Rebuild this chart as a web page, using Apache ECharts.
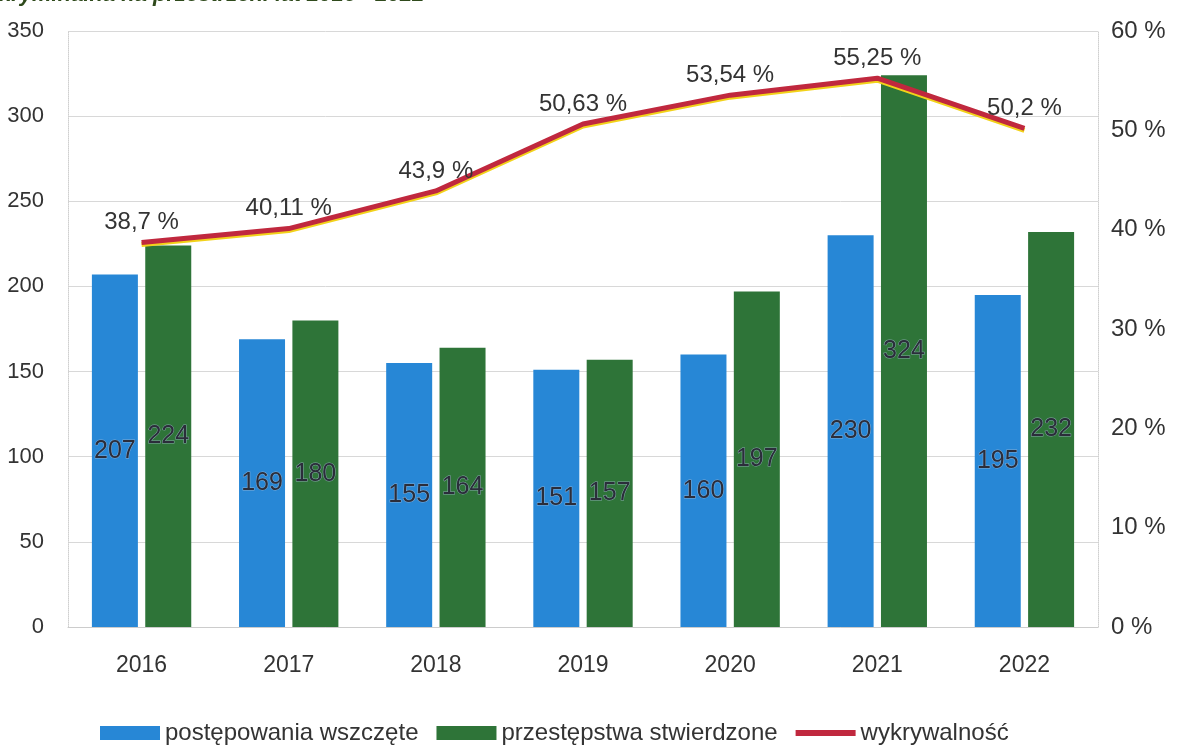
<!DOCTYPE html>
<html>
<head>
<meta charset="utf-8">
<script src="https://cdn.jsdelivr.net/npm/echarts@6/dist/echarts.min.js"></script>
<style>
html,body{margin:0;padding:0;background:#fff;}
#chart{width:1177px;height:747px;}
</style>
</head>
<body>
<div id="chart"></div>
<script>
const years = ['2016','2017','2018','2019','2020','2021','2022'];
const wszczete = [207,169,155,151,160,230,195];
const stwierdzone = [224,180,164,157,197,324,232];
const wykrywalnosc = [38.7,40.11,43.9,50.63,53.54,55.25,50.2];
const leftTicks = [0,50,100,150,200,250,300,350];
const rightTicks = [0,10,20,30,40,50,60];

const FONT = '"Liberation Sans", Arial, sans-serif';
const chart = echarts.init(document.getElementById('chart'));
const fmtPct = v => String(v).replace('.', ',') + ' %';
const barLabel = {
  show: true, position: 'inside', fontFamily: FONT, fontSize: 25,
  color: '#2b2d3a', textBorderColor: 'rgba(170,190,215,0.7)', textBorderWidth: 1
};
chart.setOption({
  backgroundColor: '#fff',
  title: {
    text: 'kryminalna na przestrzeni lat 2016 - 2022',
    left: -6, top: -21,
    textStyle: {fontFamily: FONT, fontSize: 22, fontStyle: 'italic', fontWeight: 'bold', color: '#2f4a1c'}
  },
  grid: {left: 68, right: 79, top: 31, bottom: 120},
  legend: {
    bottom: -3, left: 95, itemWidth: 60, itemHeight: 14, itemGap: 18,
    textStyle: {fontFamily: FONT, fontSize: 24, color: '#333'},
    data: [
      {name: 'postępowania wszczęte', icon: 'rect'},
      {name: 'przestępstwa stwierdzone', icon: 'rect'},
      {name: 'wykrywalność', icon: 'path://M0,0L60,0L60,6L0,6Z',
        itemStyle: {color: '#c0283e'}}
    ]
  },
  xAxis: {
    type: 'category', data: years,
    axisLine: {show: true, lineStyle: {color: '#ccc'}},
    axisTick: {show: false},
    splitLine: {show: false},
    axisLabel: {fontFamily: FONT, fontSize: 23, color: '#333', margin: 27}
  },
  yAxis: [
    {
      type: 'value', min: 0, max: 350, interval: 50,
      axisLine: {show: true, lineStyle: {color: '#cfcfcf', type: 'dotted'}}, axisTick: {show: false},
      splitLine: {lineStyle: {color: '#d8d8d8'}},
      axisLabel: {fontFamily: FONT, fontSize: 22, color: '#333', margin: 24,
        formatter: v => leftTicks.includes(v) ? String(v) : ''}
    },
    {
      type: 'value', min: 0, max: 60, interval: 10,
      axisLine: {show: true, lineStyle: {color: '#cfcfcf', type: 'dotted'}}, axisTick: {show: false},
      splitLine: {show: false},
      axisLabel: {fontFamily: FONT, fontSize: 24, color: '#333', margin: 13,
        formatter: v => rightTicks.includes(v) ? v + ' %' : ''}
    }
  ],
  series: [
    {
      name: 'postępowania wszczęte', type: 'bar', data: wszczete,
      barWidth: 46, barGap: '16%',
      itemStyle: {color: '#2787d6'},
      label: barLabel
    },
    {
      name: 'przestępstwa stwierdzone', type: 'bar', data: stwierdzone,
      barWidth: 46,
      itemStyle: {color: '#2e7438'},
      label: barLabel
    },
    {
      name: 'wykrywalność', type: 'line', yAxisIndex: 1, data: wykrywalnosc,
      symbol: 'circle', symbolSize: 0, showSymbol: true, z: 5,
      itemStyle: {color: '#c0283e'},
      lineStyle: {color: '#c0283e', width: 5, shadowColor: '#f2d21a', shadowOffsetY: 2, shadowBlur: 0},
      label: {show: true, position: 'top', distance: 8, fontFamily: FONT, fontSize: 24, color: '#333',
        formatter: p => fmtPct(p.value)}
    }
  ]
});
</script>
</body>
</html>
